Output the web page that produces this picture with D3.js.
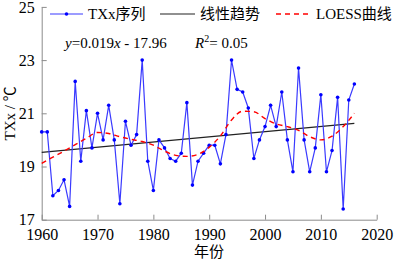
<!DOCTYPE html>
<html>
<head>
<meta charset="utf-8">
<script src="https://cdn.jsdelivr.net/npm/d3@7"></script>
<style>
  body { margin: 0; background: #fff; }
  text { font-family: "Liberation Serif", "Times New Roman", "Noto Sans CJK SC", serif; }
</style>
</head>
<body>
<script>
const width = 396;
const height = 261;

// TXx annual series, 1960-2016
const years = d3.range(1960, 2017);
const txx = [
  20.3, 20.3, 17.9, 18.1, 18.5, 17.5, 22.2, 19.2, 21.1, 19.7,
  21.0, 20.0, 21.3, 20.0, 17.6, 20.7, 19.8, 20.2, 23.0, 19.2,
  18.1, 20.0, 19.7, 19.3, 19.2, 19.5, 21.4, 18.3, 19.2, 19.5,
  19.8, 19.8, 19.1, 20.2, 23.0, 21.9, 21.8, 21.2, 19.3, 20.0,
  20.5, 21.3, 20.5, 21.8, 20.0, 18.8, 22.7, 20.0, 18.8, 19.7,
  21.7, 18.8, 19.6, 21.6, 17.4, 21.5, 22.1
];

// linear trend end points
const trendYears = [1960, 2016];
const trendValues = [19.53, 20.62];

// LOESS curve
const loessYears = [1960, 1962, 1964, 1966, 1968, 1970, 1972, 1974, 1976, 1978,
  1980, 1982, 1984, 1986, 1988, 1990, 1992, 1994, 1996, 1998,
  2000, 2002, 2004, 2006, 2008, 2010, 2012, 2014, 2016];
const loessValues = [19.12, 19.35, 19.58, 19.82, 20.06, 20.28, 20.24, 20.12, 20.02, 19.94,
  19.8, 19.58, 19.42, 19.38, 19.46, 19.72, 20.15, 20.75, 21.08, 21.06,
  20.8, 20.6, 20.5, 20.36, 20.12, 20.0, 20.14, 20.5, 21.0];

const xTicks = [1960, 1970, 1980, 1990, 2000, 2010, 2020];
const yTicks = [17, 19, 21, 23, 25];

const margin = {left: 41.7, right: 19.3, top: 6.9, bottom: 41.3};

const x = d3.scaleLinear().domain([1960, 2020]).range([margin.left, width - margin.right]);
const y = d3.scaleLinear().domain([17, 25]).range([height - margin.bottom, margin.top]);

const svg = d3.select("body").append("svg")
    .attr("width", width)
    .attr("height", height);

const axisColor = "#8c8c8c";

// axes
const xAxis = svg.append("g")
    .attr("transform", `translate(0,${y(17)})`)
    .call(d3.axisBottom(x).tickValues(xTicks).tickFormat(d3.format("d")).tickSizeInner(-5).tickSizeOuter(0));
xAxis.selectAll("text").attr("y", 9).attr("font-size", 16).attr("fill", "#000");

const yAxis = svg.append("g")
    .attr("transform", `translate(${x(1960)},0)`)
    .call(d3.axisLeft(y).tickValues(yTicks).tickSizeInner(-5).tickSizeOuter(0));
yAxis.selectAll("text").attr("x", -7).attr("font-size", 16).attr("fill", "#000");

svg.selectAll(".domain, .tick line").attr("stroke", axisColor);

// trend line
svg.append("path")
    .datum(d3.zip(trendYears, trendValues))
    .attr("d", d3.line().x(d => x(d[0])).y(d => y(d[1])))
    .attr("fill", "none")
    .attr("stroke", "#222")
    .attr("stroke-width", 1.1);

// series
svg.append("path")
    .datum(d3.zip(years, txx))
    .attr("d", d3.line().x(d => x(d[0])).y(d => y(d[1])))
    .attr("fill", "none")
    .attr("stroke", "#3a3aff")
    .attr("stroke-width", 1.2);

svg.selectAll(".pt")
    .data(d3.zip(years, txx))
    .enter().append("circle")
    .attr("class", "pt")
    .attr("cx", d => x(d[0]))
    .attr("cy", d => y(d[1]))
    .attr("r", 1.8)
    .attr("fill", "#0000ff");

// LOESS
svg.append("path")
    .datum(d3.zip(loessYears, loessValues))
    .attr("d", d3.line().curve(d3.curveMonotoneX).x(d => x(d[0])).y(d => y(d[1])))
    .attr("fill", "none")
    .attr("stroke", "#ff0000")
    .attr("stroke-width", 1.4)
    .attr("stroke-dasharray", "5,4");

// legend
const ly = 14;
const legend = svg.append("g").attr("font-size", 15);
legend.append("line").attr("x1", 50).attr("x2", 83).attr("y1", ly).attr("y2", ly)
    .attr("stroke", "#3a3aff").attr("stroke-width", 1.2);
legend.append("circle").attr("cx", 66.5).attr("cy", ly).attr("r", 1.8).attr("fill", "#0000ff");
legend.append("text").attr("x", 88).attr("y", ly + 5).text("TXx序列");

legend.append("line").attr("x1", 160).attr("x2", 195).attr("y1", ly).attr("y2", ly)
    .attr("stroke", "#222").attr("stroke-width", 1.1);
legend.append("text").attr("x", 200).attr("y", ly + 5).text("线性趋势");

legend.append("line").attr("x1", 276).attr("x2", 312).attr("y1", ly).attr("y2", ly)
    .attr("stroke", "#ff0000").attr("stroke-width", 1.4).attr("stroke-dasharray", "5,4");
legend.append("text").attr("x", 316).attr("y", ly + 5).text("LOESS曲线");

// equation
const eq = svg.append("text").attr("x", 65).attr("y", 48).attr("font-size", 15);
eq.append("tspan").attr("font-style", "italic").text("y");
eq.append("tspan").text("=0.019");
eq.append("tspan").attr("font-style", "italic").text("x");
eq.append("tspan").text(" - 17.96");

const r2 = svg.append("text").attr("x", 195).attr("y", 48).attr("font-size", 15);
r2.append("tspan").attr("font-style", "italic").text("R");
r2.append("tspan").attr("font-size", 10).attr("dy", -6).text("2");
r2.append("tspan").attr("dy", 6).text("= 0.05");

// axis titles
svg.append("text")
    .attr("transform", `translate(15,${y(21)}) rotate(-90)`)
    .attr("text-anchor", "middle")
    .attr("font-size", 15)
    .text("TXx /\u00a0℃");

svg.append("text")
    .attr("x", 209)
    .attr("y", 257)
    .attr("text-anchor", "middle")
    .attr("font-size", 15)
    .text("年份");
</script>
</body>
</html>
